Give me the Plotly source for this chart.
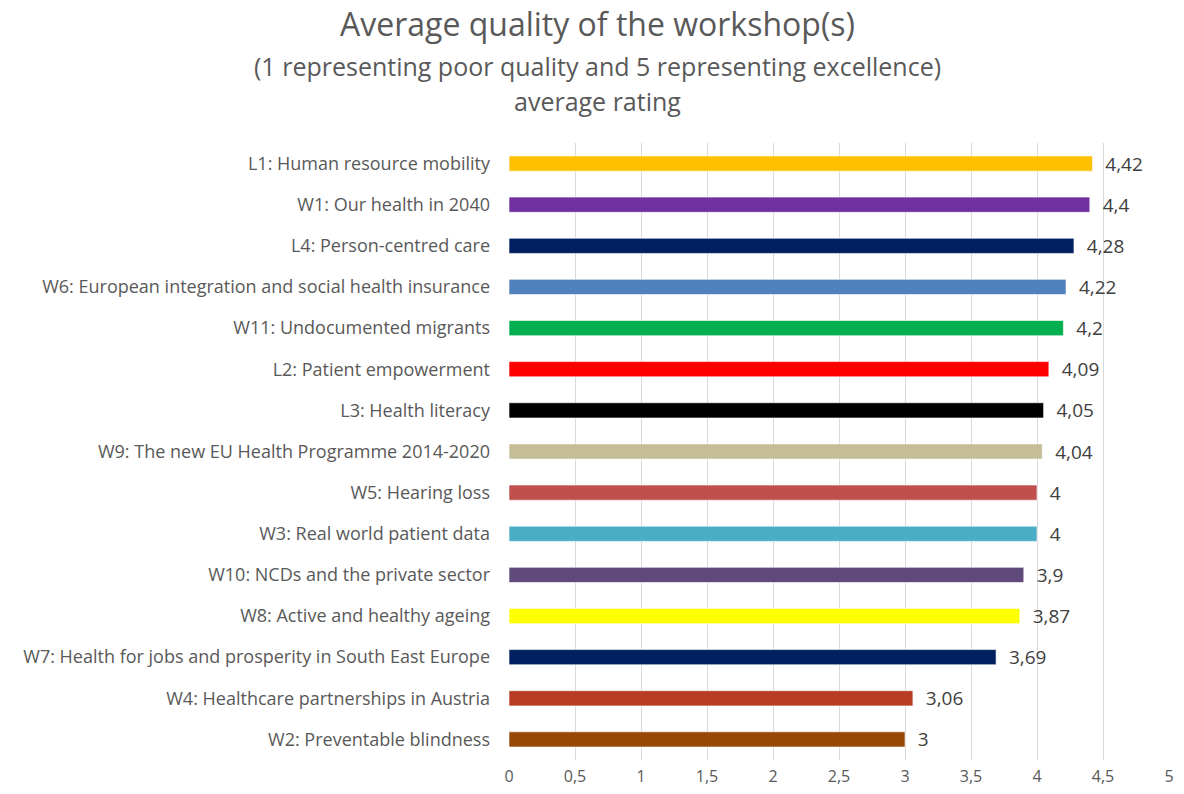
import plotly.graph_objects as go

TEXTO = '#595959'
REJILLA = '#D9D9D9'
FUENTE = 'Open Sans, Lato, sans-serif'

talleres = [
    'L1: Human resource mobility',
    'W1: Our health in 2040',
    'L4: Person-centred care',
    'W6: European integration and social health insurance',
    'W11: Undocumented migrants',
    'L2: Patient empowerment',
    'L3: Health literacy',
    'W9: The new EU Health Programme 2014-2020',
    'W5: Hearing loss',
    'W3: Real world patient data',
    'W10: NCDs and the private sector',
    'W8: Active and healthy ageing',
    'W7: Health for jobs and prosperity in South East Europe',
    'W4: Healthcare partnerships in Austria',
    'W2: Preventable blindness',
]
valores = [4.42, 4.4, 4.28, 4.22, 4.2, 4.09, 4.05, 4.04, 4, 4, 3.9, 3.87, 3.69, 3.06, 3]
etiquetas = ['4,42', '4,4', '4,28', '4,22', '4,2', '4,09', '4,05', '4,04', '4', '4', '3,9', '3,87', '3,69', '3,06', '3']
colores = ['#FFC000', '#7030A0', '#002060', '#4F81BD', '#00B050', '#FF0000', '#000000', '#C4BD97',
           '#C0504D', '#4BACC6', '#604A7B', '#FFFF00', '#002060', '#B83B24', '#974806']

ticks_x = [0, 0.5, 1, 1.5, 2, 2.5, 3, 3.5, 4, 4.5, 5]
ticks_txt = ['0', '0,5', '1', '1,5', '2', '2,5', '3', '3,5', '4', '4,5', '5']

ANCHO, ALTO = 1184, 794
M_IZQ, M_DER, M_SUP, M_INF = 509, 15, 143, 34

fig = go.Figure(go.Bar(
    y=talleres, x=valores, orientation='h',
    marker=dict(color=colores, line=dict(width=1, color='rgba(255,255,255,0.6)')),
    text=['  ' + e for e in etiquetas], textposition='outside', cliponaxis=False,
    constraintext='none',
    textfont=dict(size=19, color='#404040', family=FUENTE),
    hoverinfo='skip',
))

alto_plot = ALTO - M_SUP - M_INF
lineas = [('Average quality of the workshop(s)', 32, 23),
          ('(1 representing poor quality and 5 representing excellence)', 25, 66),
          ('average rating', 25, 101)]
anots = []
for txt, tam, py in lineas:
    anots.append(dict(text=txt, xref='paper', yref='paper',
                      x=(597 - M_IZQ) / (ANCHO - M_IZQ - M_DER),
                      y=1 + (M_SUP - py) / alto_plot, xanchor='center', yanchor='middle',
                      showarrow=False, font=dict(size=tam, color=TEXTO)))

fig.update_layout(
    width=ANCHO, height=ALTO,
    paper_bgcolor='white', plot_bgcolor='white',
    margin=dict(l=M_IZQ, r=M_DER, t=M_SUP, b=M_INF),
    bargap=0.63, showlegend=False,
    font=dict(family=FUENTE, color=TEXTO),
    xaxis=dict(range=[0, 5], tickvals=ticks_x, ticktext=ticks_txt, showgrid=True, gridcolor=REJILLA,
               zeroline=False, showline=False, ticks='', tickfont=dict(size=16, color=TEXTO),
               ticklabelstandoff=5, automargin=False),
    yaxis=dict(autorange='reversed', showgrid=False, ticks='', ticklen=0,
               tickfont=dict(size=18, color=TEXTO), automargin=False, ticklabelstandoff=18),
    annotations=anots,
)

# sin margen en el body para que el lienzo ocupe la ventana entera
fig.write_html('out.html', config={'displayModeBar': False},
               post_script="document.body.style.margin='0';")
